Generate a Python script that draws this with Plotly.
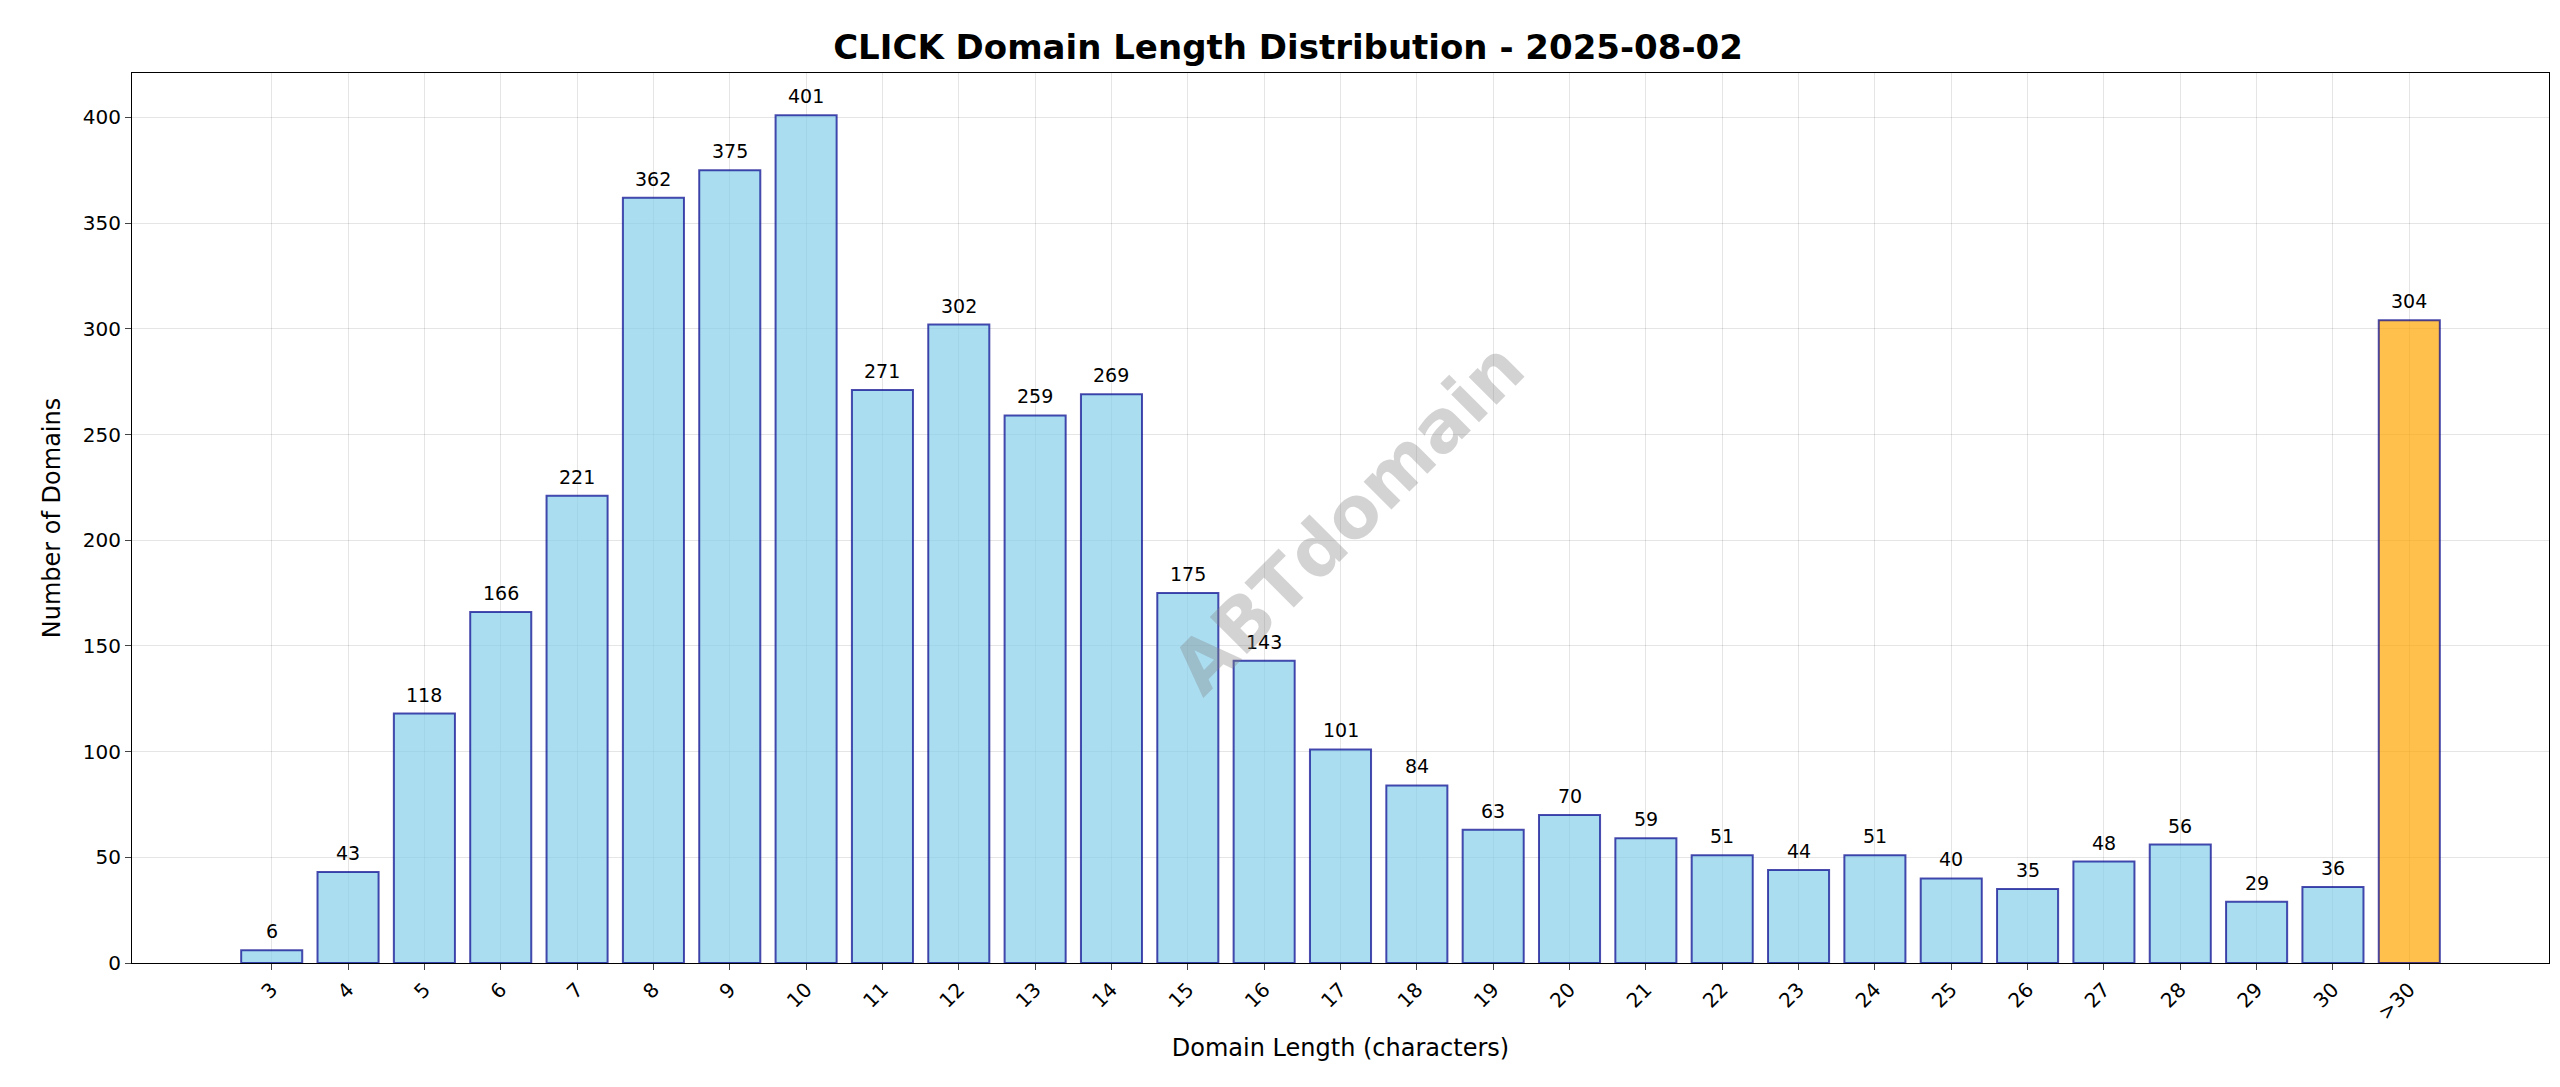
import plotly.graph_objects as go

lengths = list(range(3, 31)) + [31]
tick_labels = [str(i) for i in range(3, 31)] + [">30"]
counts = [6, 43, 118, 166, 221, 362, 375, 401, 271, 302, 259, 269, 175, 143, 101, 84, 63, 70, 59, 51, 44, 51, 40, 35, 48, 56, 29, 36, 304]

colors = ["rgba(135,206,235,0.7)"] * 28 + ["rgba(255,165,0,0.7)"]

fig = go.Figure(go.Bar(
    x=lengths, y=counts, width=0.8,
    marker=dict(color=colors, line=dict(color="rgba(0,0,139,0.7)", width=2)),
))
for xv, c in zip(lengths, counts):
    fig.add_annotation(x=xv, y=c, text=str(c), showarrow=False, yanchor="bottom", yshift=6,
                       font=dict(size=19, color="black"))
fig.update_layout(
    width=2560, height=1087, plot_bgcolor="white", paper_bgcolor="white",
    font=dict(family="DejaVu Sans", color="black"),
    title=dict(text="<b>CLICK Domain Length Distribution - 2025-08-02</b>", x=0.5, xanchor="center",
               y=0.975, yanchor="top", font=dict(size=34)),
    margin=dict(l=124, r=19, t=65, b=132),
    showlegend=False,
)
fig.update_xaxes(range=[1.17, 32.83], tickvals=lengths, ticktext=tick_labels, tickangle=-45,
                 tickfont=dict(size=20), showgrid=True, gridcolor="rgba(0,0,0,0.1)",
                 showline=True, linecolor="black", mirror=True, ticks="outside", ticklen=6,
                 title=dict(text="Domain Length (characters)", font=dict(size=24)))
fig.update_yaxes(range=[0, 421], tickvals=list(range(0, 401, 50)), tickfont=dict(size=20),
                 showgrid=True, gridcolor="rgba(0,0,0,0.1)", zeroline=False,
                 showline=True, linecolor="black", mirror=True, ticks="outside", ticklen=6,
                 title=dict(text="Number of Domains", font=dict(size=24)))
fig.add_annotation(text="<b>ABTdomain</b>", xref="paper", yref="paper", x=0.503, y=0.5,
                   showarrow=False, textangle=-45, font=dict(size=72, color="rgba(128,128,128,0.35)"))
fig.write_html("out.html")
